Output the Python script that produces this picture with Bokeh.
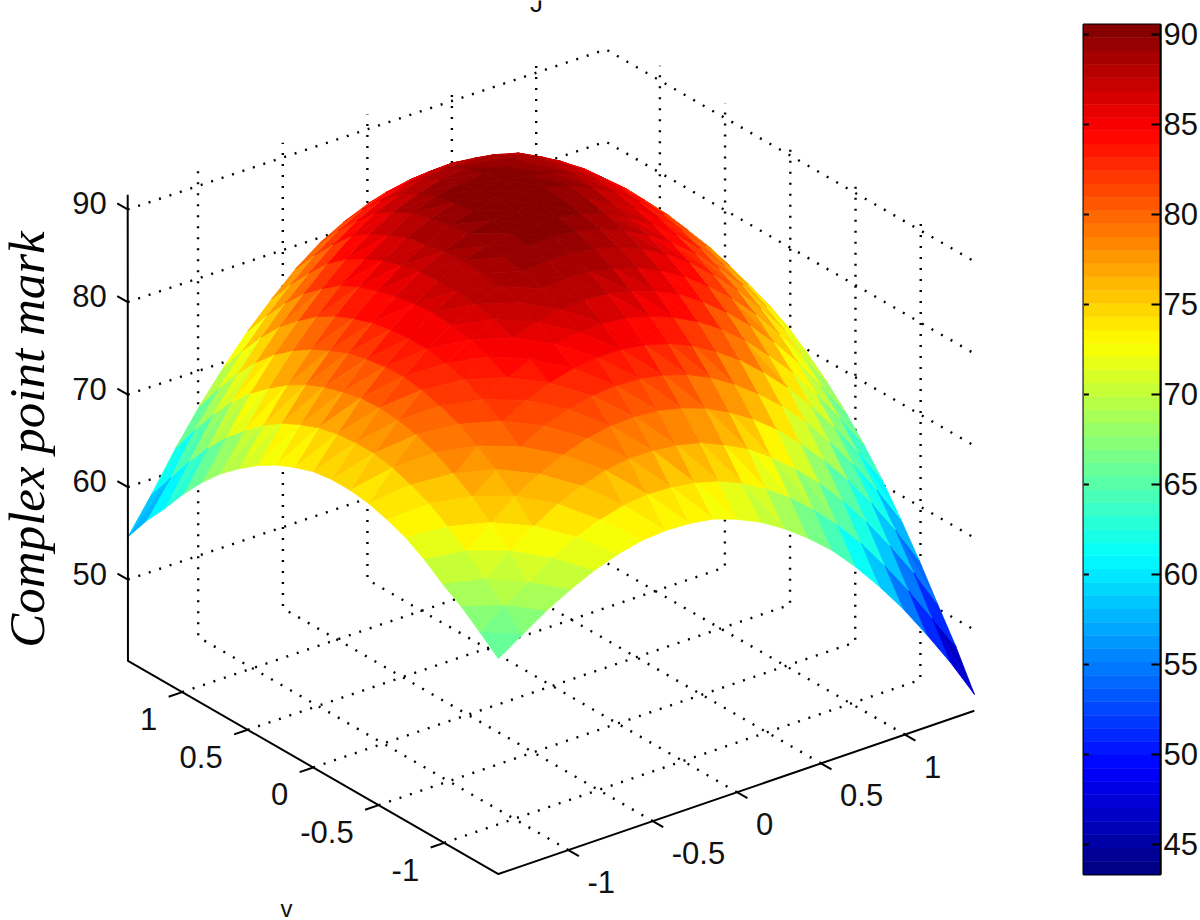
import numpy as np
from bokeh.core.properties import value
from bokeh.embed import file_html
from bokeh.layouts import row
from bokeh.models import FixedTicker, Range1d
from bokeh.plotting import figure
from bokeh.resources import INLINE

# ---- data -----------------------------------------------------------------
u_ticks = [-1, -0.5, 0, 0.5, 1]
u_tick_labels = ["-1", "-0.5", "0", "0.5", "1"]
v_ticks = [-1, -0.5, 0, 0.5, 1]
v_tick_labels = ["-1", "-0.5", "0", "0.5", "1"]
z_ticks = [50, 60, 70, 80, 90]
z_tick_labels = ["50", "60", "70", "80", "90"]
colorbar_ticks = [45, 50, 55, 60, 65, 70, 75, 80, 85, 90]
y_title = "Complex point mark"

axis_half_span = 1.414
z_floor = 41.2
z_roof = 91.6
color_low = 43.33
color_high = 90.55

# surface heights: one row per v (from -1.414 up to +1.414),
# one column per u (from -1.414 up to +1.414)
z_rows = [
 [64.5,66.2,67.9,69.3,70.5,71.4,72.0,72.2,72.1,71.7,70.8,69.6,68.0,66.1,63.9,61.2,58.2,54.9,51.2,47.3,43.0],
 [66.2,68.2,69.8,71.6,73.0,74.0,74.7,75.0,74.9,74.5,73.8,72.7,71.2,69.4,67.2,64.7,61.8,58.5,54.9,51.0,47.0],
 [67.8,69.9,72.1,73.9,75.4,76.5,77.3,77.7,77.7,77.4,76.8,75.7,74.4,72.6,70.5,68.1,65.3,62.1,58.6,54.8,50.5],
 [69.1,71.8,74.0,76.0,77.5,78.7,79.6,80.1,80.2,80.0,79.4,78.5,77.2,75.6,73.6,71.2,68.5,65.5,62.1,58.3,54.1],
 [70.6,73.3,75.7,77.7,79.3,80.7,81.6,82.2,82.4,82.3,81.8,81.0,79.8,78.2,76.3,74.1,71.5,68.5,65.2,61.5,57.4],
 [71.8,74.6,77.0,79.1,80.9,82.3,83.3,84.0,84.3,84.3,83.9,83.2,82.1,80.6,78.8,76.6,74.1,71.2,68.0,64.4,60.5],
 [72.6,75.5,78.1,80.3,82.1,83.6,84.7,85.5,85.9,86.0,85.7,85.0,84.0,82.7,81.0,78.9,76.4,73.7,70.5,67.0,63.2],
 [73.2,76.2,78.9,81.1,83.1,84.7,85.9,86.7,87.2,87.4,87.2,86.6,85.7,84.5,82.8,80.8,78.5,75.8,72.8,69.3,65.6],
 [73.5,76.6,79.3,81.7,83.7,85.4,86.7,87.7,88.3,88.5,88.4,87.9,87.1,85.9,84.4,82.5,80.3,77.7,74.7,71.4,67.7],
 [73.5,76.6,79.5,82.0,84.1,85.8,87.2,88.3,89.0,89.3,89.3,88.9,88.2,87.1,85.7,83.9,81.7,79.2,76.3,73.1,69.5],
 [73.2,76.4,79.4,81.9,84.1,86.0,87.5,88.6,89.4,89.8,89.9,89.6,89.0,88.0,86.6,84.9,82.9,80.4,77.7,74.5,71.1],
 [72.5,75.9,78.9,81.6,83.9,85.8,87.4,88.7,89.5,90.0,90.2,90.0,89.5,88.6,87.3,85.7,83.7,81.4,78.7,75.7,72.3],
 [71.6,75.1,78.3,81.1,83.5,85.5,87.3,88.6,89.6,90.2,90.4,90.3,89.9,89.1,87.9,86.4,84.5,82.2,79.6,76.6,73.2],
 [70.4,74.1,77.4,80.2,82.8,84.9,86.8,88.2,89.4,90.1,90.5,90.4,90.1,89.4,88.3,86.9,85.0,82.8,80.2,77.3,74.0],
 [68.9,72.7,76.2,79.2,81.9,84.2,86.2,87.8,89.0,89.8,90.4,90.5,90.2,89.6,88.6,87.1,85.3,83.1,80.6,77.6,74.4],
 [67.2,71.0,74.7,77.9,80.7,83.2,85.2,86.9,88.4,89.4,89.9,90.1,89.9,89.4,88.5,87.1,85.3,83.2,80.7,77.7,74.6],
 [65.1,69.1,73.0,76.3,79.1,81.7,84.0,85.9,87.4,88.5,89.2,89.5,89.4,89.0,88.2,86.8,85.1,82.9,80.4,77.5,74.4],
 [62.7,66.8,70.9,74.3,77.3,80.0,82.4,84.5,86.1,87.3,88.1,88.4,88.4,88.1,87.4,86.1,84.5,82.3,79.9,77.0,73.9],
 [60.0,64.2,68.4,71.9,75.0,77.8,80.2,82.4,84.1,85.4,86.3,86.8,86.9,86.6,86.0,84.8,83.3,81.2,78.9,76.1,73.0],
 [57.5,61.3,65.6,69.2,72.4,75.3,77.8,80.1,81.9,83.3,84.3,84.8,85.0,84.8,84.3,83.2,81.8,79.8,77.5,74.8,71.9],
 [54.6,58.4,62.5,66.2,69.5,72.5,75.1,77.5,79.4,80.8,81.9,82.5,82.8,82.8,82.3,81.3,80.0,78.1,75.9,73.3,70.5],
]

# ---- layout constants -------------------------------------------------------
FONT = value("Liberation Sans")
LABEL_SIZE = "31px"
TEXT_COLOR = "#111111"
R, ZL, ZH = axis_half_span, z_floor, z_roof
main_right = 1075
page_w, page_h = 1200, 920


def jet(n):
    x = (np.arange(n) + 0.5) / n
    r = np.clip(1.5 - np.abs(4 * x - 3), 0, 1)
    g = np.clip(1.5 - np.abs(4 * x - 2), 0, 1)
    b = np.clip(1.5 - np.abs(4 * x - 1), 0, 1)
    return ["#%02x%02x%02x" % (int(a * 255), int(c * 255), int(d * 255)) for a, c, d in zip(r, g, b)]


palette = jet(64)

# camera: fitted from where the corners of the axis box sit on the canvas
anchors = [
    ((-R, -R, ZL), (496, 873)), ((R, -R, ZL), (975, 709)),
    ((-R, R, ZL), (128, 662)), ((R, R, ZL), (606, 498)),
    ((-R, R, 90), (128, 207)), ((R, R, 90), (604, 49)),
    ((R, -R, 90), (975, 263)), ((R, R, 50), (604, 417)),
    ((-R, R, 50), (128, 580)),
]
A = []
for (X, Y, Z), (sx, sy) in anchors:
    A.append([X, Y, Z, 1, 0, 0, 0, 0, -sx * X, -sx * Y, -sx * Z, -sx])
    A.append([0, 0, 0, 0, X, Y, Z, 1, -sy * X, -sy * Y, -sy * Z, -sy])
P = np.linalg.svd(np.array(A, float))[2][-1].reshape(3, 4)


def project(u, v, z):
    u = np.asarray(u, float)
    h = P @ np.array([u, np.asarray(v, float), np.asarray(z, float), np.ones_like(u)])
    return (h[0] / h[2]).tolist(), (h[1] / h[2]).tolist()


p = figure(width=main_right, height=page_h, x_range=Range1d(0, main_right), y_range=Range1d(page_h, 0),
           output_backend="svg", toolbar_location=None, min_border=0)
p.frame_align = False
p.axis.visible = False
p.grid.visible = False
p.outline_line_color = None

# dotted grid on floor and two back walls
dx, dy = [], []
for z in z_ticks:
    xs, ys = project([-R, R, R], [R, R, -R], [z, z, z])
    dx.append(xs)
    dy.append(ys)
for u in u_ticks:
    xs, ys = project([u, u, u], [-R, R, R], [ZL, ZL, ZH])
    dx.append(xs)
    dy.append(ys)
for v in v_ticks:
    xs, ys = project([-R, R, R], [v, v, v], [ZL, ZL, ZH])
    dx.append(xs)
    dy.append(ys)
p.multi_line(dx, dy, line_color="black", line_width=2.4, line_dash="2 9")

# surface: each grid cell is two flat triangles, painted far corner to near
zt = np.array(z_rows)
n_v, n_u = zt.shape
us = np.linspace(-R, R, n_u)
vs = np.linspace(-R, R, n_v)
tris = []
for j in range(n_v - 1):
    for i in range(n_u - 1):
        tris.append((i + j + 1.5, [(i + 1, j), (i, j + 1), (i + 1, j + 1)]))
        tris.append((i + j + 0.5, [(i, j), (i + 1, j), (i, j + 1)]))
tris.sort(key=lambda t: -t[0])
px, py, pc = [], [], []
for _, corners in tris:
    cu = [us[a] for a, b in corners]
    cv = [vs[b] for a, b in corners]
    cz = [zt[b, a] for a, b in corners]
    x_, y_ = project(cu, cv, cz)
    px.append(x_)
    py.append(y_)
    k = int((np.mean(cz) - color_low) / (color_high - color_low) * 64)
    pc.append(palette[min(max(k, 0), 63)])
p.patches(px, py, fill_color=pc, line_color=pc, line_width=0.8)

# box axes
ax, ay = project([-R, -R, -R, R], [R, R, -R, -R], [ZH, ZL, ZL, ZL])
p.line(ax, ay, line_color="black", line_width=2)

tx, ty = [], []
tick_len = 0.08
for v in v_ticks:
    xs, ys = project([-R, -R - tick_len], [v, v], [ZL, ZL])
    tx.append(xs); ty.append(ys)
for u in u_ticks:
    xs, ys = project([u, u], [-R, -R - tick_len], [ZL, ZL])
    tx.append(xs); ty.append(ys)
for z in z_ticks:
    xs, ys = project([-R, -R], [R, R + tick_len], [z, z])
    tx.append(xs); ty.append(ys)
p.multi_line(tx, ty, line_color="black", line_width=2)

# tick labels
zx, zy = project([-R] * len(z_ticks), [R] * len(z_ticks), z_ticks)
p.text(zx, zy, text=z_tick_labels, text_font=FONT, text_font_size=LABEL_SIZE, text_align="right",
       text_baseline="middle", x_offset=-21, y_offset=-6, text_color=TEXT_COLOR)
vx, vy = project([-R] * len(v_ticks), v_ticks, [ZL] * len(v_ticks))
p.text(vx, vy, text=v_tick_labels, text_font=FONT, text_font_size=LABEL_SIZE, text_align="right",
       text_baseline="middle", x_offset=-25, y_offset=27, text_color=TEXT_COLOR)
ux, uy = project(u_ticks, [-R] * len(u_ticks), [ZL] * len(u_ticks))
p.text(ux, uy, text=u_tick_labels, text_font=FONT, text_font_size=LABEL_SIZE, text_align="left",
       text_baseline="middle", x_offset=19, y_offset=32, text_color=TEXT_COLOR)

# axis titles (the lower ones and the top one are cut by the picture's edge in the reference)
p.text([26], [439], text=[y_title], angle=np.pi / 2, text_font=value("Liberation Serif"), text_font_style="italic",
       text_font_size="51px", text_align="center", text_baseline="middle", text_color="black")
p.text([286], [908], text=["v"], text_font=FONT, text_font_size="24px", text_align="center",
       text_baseline="alphabetic", text_color=TEXT_COLOR)
p.text([727], [925], text=["u"], text_font=FONT, text_font_size="26px", text_align="center",
       text_baseline="alphabetic", text_color=TEXT_COLOR)
p.text([536], [2], text=["J"], text_font=FONT, text_font_size="26px", text_align="center",
       text_baseline="alphabetic", text_color=TEXT_COLOR)

# colour bar: its own small figure with real axes
c = figure(width=page_w - main_right, height=page_h, x_range=Range1d(0, 1), y_range=Range1d(color_low, color_high),
           output_backend="svg", toolbar_location=None, min_border_left=8, min_border_right=36,
           min_border_top=24, min_border_bottom=46, y_axis_location="right")
c.frame_align = False
edges = np.linspace(color_low, color_high, 65)
c.quad(left=0, right=1, bottom=edges[:-1], top=edges[1:], fill_color=palette, line_color=palette, line_width=0.5)
c.segment(x0=0, x1=0.07, y0=colorbar_ticks, y1=colorbar_ticks, line_color="black", line_width=2)
c.xaxis.visible = False
c.grid.visible = False
c.outline_line_color = "black"
c.outline_line_width = 2
c.yaxis.ticker = FixedTicker(ticks=colorbar_ticks)
c.yaxis.major_tick_in = 9
c.yaxis.major_tick_out = 0
c.yaxis.minor_tick_line_color = None
c.yaxis.major_tick_line_width = 2
c.yaxis.axis_line_width = 2
c.yaxis.major_label_standoff = 3
c.yaxis.major_label_text_font = "Liberation Sans"
c.yaxis.major_label_text_font_size = LABEL_SIZE
c.yaxis.major_label_text_color = TEXT_COLOR

layout = row(p, c, spacing=0)
open("out.html", "w").write(file_html(layout, INLINE))
